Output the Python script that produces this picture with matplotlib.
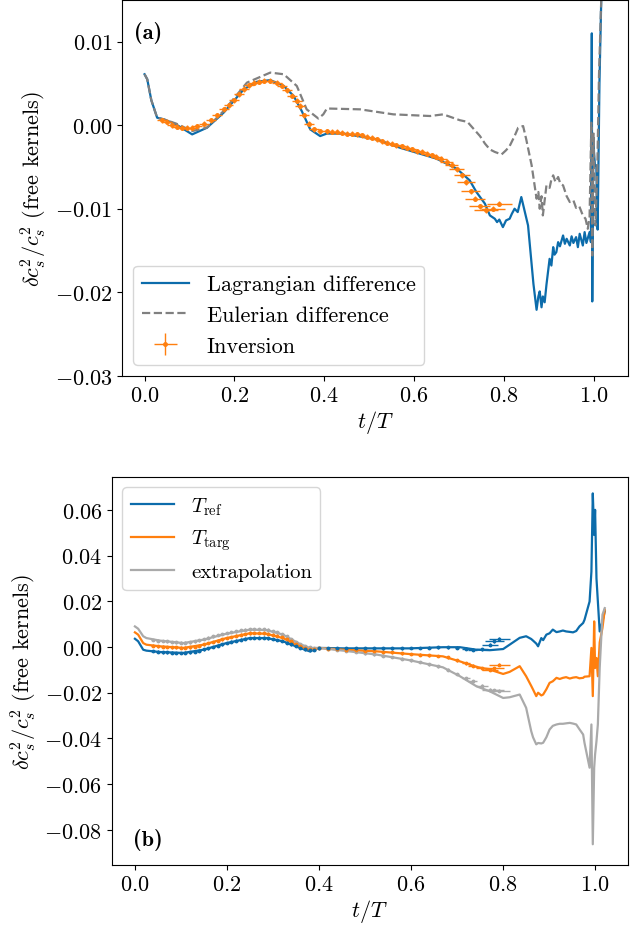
import numpy as np
import matplotlib
matplotlib.use("Agg")
import matplotlib.pyplot as plt

plt.rcParams["font.family"] = "serif"
plt.rcParams["font.serif"] = ["cmr10"]
plt.rcParams["mathtext.fontset"] = "cm"
plt.rcParams["axes.formatter.use_mathtext"] = True
plt.rcParams["font.size"] = 16
plt.rcParams["axes.unicode_minus"] = True

BLUE = "#0c6cab"
ORANGE = "#ff7f0e"
DGREY = "#808080"
LGREY = "#aaaaaa"

# ---- panel (a): sound-speed difference vs. fractional age ----
t_lag = [0.0, 0.006, 0.015, 0.028, 0.043, 0.07, 0.106, 0.139, 0.176, 0.221, 0.25, 0.28,
         0.31, 0.332, 0.35, 0.369, 0.391, 0.406, 0.443, 0.517, 0.569, 0.65, 0.695, 0.724,
         0.739, 0.758, 0.769, 0.78, 0.785, 0.79, 0.798, 0.805, 0.813, 0.818, 0.824, 0.831,
         0.839, 0.854, 0.866, 0.873, 0.877, 0.880, 0.884, 0.887, 0.891, 0.895, 0.902, 0.906,
         0.910, 0.913, 0.917, 0.921, 0.925, 0.932, 0.936, 0.94, 0.947, 0.951, 0.955, 0.961,
         0.965, 0.969, 0.976, 0.98, 0.984, 0.991, 0.994, 0.996, 0.997, 0.999, 1.003, 1.006,
         1.009, 1.013, 1.017, 1.025]
v_lag = [0.0061, 0.0055, 0.0030, 0.0009, 0.0007, 0.0001, -0.0011, -0.0003, 0.0015, 0.0043,
         0.0052, 0.0054, 0.0047, 0.0035, 0.0017, -0.0005, -0.0013, -0.0010, -0.0010, -0.0017,
         -0.0027, -0.0040, -0.0052, -0.0066, -0.0080, -0.0094, -0.0108, -0.0112, -0.0116,
         -0.0113, -0.0122, -0.0114, -0.0112, -0.0106, -0.0100, -0.0104, -0.0086, -0.0120,
         -0.0190, -0.0221, -0.0205, -0.0199, -0.0218, -0.0205, -0.0212, -0.0191, -0.0160,
         -0.0168, -0.0146, -0.0155, -0.0152, -0.0140, -0.0145, -0.0132, -0.0142, -0.0136,
         -0.0144, -0.0133, -0.0141, -0.0134, -0.0146, -0.0130, -0.0144, -0.0128, -0.0141,
         -0.0128, -0.0140, 0.0110, -0.0211, -0.0020, -0.0048, -0.0048, -0.0125, 0.0050,
         0.0150, 0.0220]

t_eul = [0.0, 0.006, 0.015, 0.028, 0.043, 0.07, 0.106, 0.139, 0.176, 0.228, 0.28, 0.31,
         0.339, 0.361, 0.387, 0.398, 0.406, 0.48, 0.554, 0.636, 0.665, 0.702, 0.719, 0.747,
         0.758, 0.769, 0.78, 0.795, 0.805, 0.813, 0.824, 0.832, 0.843, 0.850, 0.862, 0.873,
         0.877, 0.880, 0.884, 0.887, 0.891, 0.895, 0.902, 0.906, 0.910, 0.915, 0.921, 0.926,
         0.932, 0.94, 0.947, 0.955, 0.961, 0.968, 0.976, 0.982, 0.987, 0.991, 0.995, 0.997,
         1.0, 1.004, 1.008, 1.012, 1.017, 1.025]
v_eul = [0.0061, 0.0055, 0.0030, 0.0009, 0.0007, 0.0002, -0.0007, -0.0003, 0.0017, 0.0051,
         0.0063, 0.0061, 0.0047, 0.0019, 0.0008, 0.0013, 0.0020, 0.0019, 0.0013, 0.0011,
         0.0013, 0.0006, 0.0004, -0.0013, -0.0022, -0.0029, -0.0032, -0.0035, -0.0030,
         -0.0025, -0.0013, -0.0003, -0.0001, -0.0017, -0.0048, -0.0088, -0.0080, -0.0100,
         -0.0085, -0.0108, -0.0090, -0.0072, -0.0075, -0.0065, -0.0060, -0.0068, -0.0062,
         -0.0070, -0.0072, -0.0085, -0.0092, -0.0090, -0.0099, -0.0097, -0.0108, -0.0112,
         -0.0124, -0.0110, 0.0003, -0.0156, -0.0010, -0.0120, -0.0060, 0.0060, 0.0150, 0.0220]

t_inv = [0.039, 0.050, 0.061, 0.073, 0.084, 0.095, 0.106, 0.117, 0.132, 0.147, 0.161,
         0.176, 0.187, 0.199, 0.210, 0.221, 0.232, 0.243, 0.254, 0.265, 0.280, 0.295,
         0.306, 0.317, 0.328, 0.339, 0.347, 0.356, 0.367, 0.378, 0.391, 0.406, 0.417,
         0.428, 0.439, 0.450, 0.461, 0.473, 0.484, 0.495, 0.506, 0.517, 0.528, 0.539,
         0.550, 0.561, 0.573, 0.584, 0.595, 0.606, 0.617, 0.628, 0.639, 0.650, 0.661,
         0.673, 0.684, 0.695, 0.706, 0.716, 0.726, 0.736, 0.746, 0.760, 0.776, 0.790]
v_inv = [0.0006, 0.00044, 0.0, -0.0002, -0.0003, -0.0003, -0.0003, -0.0001, 0.0002,
         0.0006, 0.0012, 0.0019, 0.0024, 0.0030, 0.0037, 0.0043, 0.0048, 0.0051, 0.0052,
         0.0053, 0.0053, 0.0051, 0.0047, 0.0042, 0.0035, 0.0029, 0.0023, 0.0012, 0.0002,
         -0.0005, -0.0007, -0.00075, -0.0008, -0.0008, -0.0009, -0.0010, -0.0010, -0.0011,
         -0.0012, -0.0014, -0.0015, -0.0017, -0.0019, -0.0021, -0.0022, -0.0024, -0.0025,
         -0.0027, -0.0029, -0.0031, -0.0032, -0.0034, -0.0036, -0.0038, -0.0040, -0.0044,
         -0.0048, -0.0053, -0.0060, -0.0068, -0.0079, -0.0088, -0.0097, -0.0102, -0.0100,
         -0.0094]
xerr_inv = [0.011, 0.011, 0.011, 0.011, 0.011, 0.011, 0.011, 0.011, 0.011, 0.011, 0.011,
            0.011, 0.011, 0.011, 0.011, 0.011, 0.011, 0.011, 0.011, 0.011, 0.011, 0.011,
            0.011, 0.011, 0.011, 0.011, 0.011, 0.011, 0.011, 0.011, 0.008, 0.008, 0.008,
            0.008, 0.008, 0.008, 0.008, 0.008, 0.008, 0.008, 0.008, 0.008, 0.008, 0.008,
            0.009, 0.009, 0.009, 0.010, 0.010, 0.010, 0.010, 0.011, 0.011, 0.012, 0.013,
            0.014, 0.015, 0.016, 0.018, 0.020, 0.021, 0.022, 0.024, 0.026, 0.027, 0.028]
yerr_inv = 0.0003

# ---- panel (b): reference, target and extrapolated ages ----
t_b = [0.0, 0.007, 0.018, 0.025, 0.054, 0.105, 0.149, 0.199, 0.25, 0.286, 0.322, 0.359,
       0.380, 0.4, 0.453, 0.525, 0.598, 0.670, 0.707, 0.743, 0.772, 0.801, 0.815, 0.837,
       0.851, 0.862, 0.866, 0.873, 0.877, 0.884, 0.888, 0.895, 0.902, 0.909, 0.917, 0.924,
       0.931, 0.938, 0.946, 0.953, 0.960, 0.967, 0.975, 0.978, 0.989, 0.993, 0.996, 0.999,
       1.001, 1.004, 1.007, 1.011, 1.017, 1.022]
v_ref = [0.0036, 0.0025, -0.0012, -0.0016, -0.0022, -0.0026, -0.0012, 0.0017, 0.0039,
         0.0039, 0.0025, -0.0004, -0.0019, -0.0004, -0.0006, -0.0006, -0.0006, -0.0001,
         -0.0001, -0.0012, -0.0014, -0.0009, 0.0010, 0.0040, 0.0047, 0.0035, 0.0028, 0.0015,
         0.0003, 0.0039, 0.0030, 0.0054, 0.0060, 0.0076, 0.0065, 0.0068, 0.0072, 0.0068,
         0.0066, 0.0064, 0.0070, 0.0090, 0.0105, 0.0119, 0.0199, 0.0330, 0.0672, 0.0490,
         0.0600, 0.0300, 0.0200, 0.0068, 0.0112, 0.0156]
v_targ = [0.0064, 0.0054, 0.0017, 0.0010, 0.0003, -0.0004, 0.0010, 0.0039, 0.0060, 0.0058,
          0.0039, 0.0003, -0.0012, -0.0004, -0.0012, -0.0019, -0.0031, -0.0041, -0.0063,
          -0.0087, -0.0099, -0.0118, -0.0109, -0.0084, -0.0128, -0.0170, -0.0186, -0.0215,
          -0.0200, -0.0212, -0.0208, -0.0185, -0.0157, -0.0150, -0.0135, -0.0140, -0.0135,
          -0.0132, -0.0138, -0.0134, -0.0132, -0.0137, -0.0135, -0.0130, -0.0128, -0.0004,
          -0.0215, 0.0112, -0.0092, -0.0048, -0.0128, 0.0020, 0.0083, 0.0163]
v_extr = [0.0090, 0.0080, 0.0047, 0.0039, 0.0028, 0.0017, 0.0032, 0.0058, 0.0076, 0.0074,
          0.0054, 0.0013, -0.0004, -0.0004, -0.0016, -0.0033, -0.0058, -0.0089, -0.0128,
          -0.0172, -0.0194, -0.0223, -0.0220, -0.0208, -0.0266, -0.0368, -0.0395, -0.0426,
          -0.0420, -0.0422, -0.0419, -0.0395, -0.0361, -0.0345, -0.0339, -0.0336, -0.0336,
          -0.0334, -0.0332, -0.0335, -0.0339, -0.0360, -0.0383, -0.0420, -0.0528, -0.0339,
          -0.0863, -0.0528, -0.0470, -0.0412, -0.0339, -0.0092, 0.0141, 0.0170]

t_bpts = [0.04, 0.05, 0.06, 0.07, 0.08, 0.09, 0.10, 0.11, 0.12, 0.13, 0.14, 0.15, 0.16,
          0.17, 0.18, 0.19, 0.20, 0.21, 0.22, 0.23, 0.24, 0.25, 0.26, 0.27, 0.28, 0.29,
          0.30, 0.31, 0.32, 0.33, 0.34, 0.35, 0.36, 0.37, 0.38, 0.39, 0.40, 0.42, 0.44,
          0.46, 0.48, 0.50, 0.52, 0.54, 0.56, 0.58, 0.60, 0.62, 0.64, 0.66, 0.68, 0.70,
          0.72, 0.735, 0.755, 0.772, 0.782, 0.793]
xerr_bpts = [0.004] * 52 + [0.008, 0.010, 0.014, 0.018, 0.020, 0.022]
ref_pts = [-0.0018, -0.0021, -0.0023, -0.0024, -0.0025, -0.0026, -0.0026, -0.0025,
           -0.0024, -0.0021, -0.0016, -0.0011, -0.0006, 0.0000, 0.0006, 0.0012, 0.0017,
           0.0023, 0.0028, 0.0032, 0.0036, 0.0039, 0.0040, 0.0040, 0.0040, 0.0038, 0.0035,
           0.0031, 0.0026, 0.0019, 0.0012, 0.0004, -0.0004, -0.0010, -0.0015, -0.0012,
           -0.0006, -0.0005, -0.0006, -0.0006, -0.0006, -0.0006, -0.0006, -0.0006, -0.0006,
           -0.0006, -0.0005, -0.0004, -0.0003, -0.0002, -0.0002, -0.0003, -0.0007, -0.0012,
           -0.0010, 0.0010, 0.0025, 0.0036]
targ_pts = [0.0005, 0.0003, 0.0002, 0.0000, -0.0001, -0.0002, -0.0003, -0.0003, -0.0002,
            0.0001, 0.0006, 0.0011, 0.0017, 0.0022, 0.0028, 0.0034, 0.0039, 0.0044,
            0.0049, 0.0053, 0.0057, 0.0059, 0.0061, 0.0061, 0.0060, 0.0058, 0.0054, 0.0049,
            0.0042, 0.0034, 0.0024, 0.0013, 0.0003, -0.0005, -0.0010, -0.0008, -0.0005,
            -0.0007, -0.0010, -0.0012, -0.0014, -0.0016, -0.0018, -0.0021, -0.0024, -0.0028,
            -0.0031, -0.0034, -0.0037, -0.0040, -0.0046, -0.0058, -0.0071, -0.0081, -0.0093,
            -0.0099, -0.0092, -0.0077]
extr_pts = [0.0030, 0.0028, 0.0026, 0.0024, 0.0022, 0.0020, 0.0019, 0.0019, 0.0021,
            0.0024, 0.0029, 0.0035, 0.0041, 0.0047, 0.0052, 0.0057, 0.0061, 0.0065,
            0.0069, 0.0073, 0.0076, 0.0078, 0.0079, 0.0079, 0.0078, 0.0075, 0.0070, 0.0064,
            0.0056, 0.0046, 0.0034, 0.0022, 0.0012, 0.0004, -0.0002, -0.0004, -0.0004,
            -0.0009, -0.0013, -0.0017, -0.0022, -0.0027, -0.0032, -0.0038, -0.0044, -0.0051,
            -0.0058, -0.0066, -0.0075, -0.0085, -0.0100, -0.0118, -0.0137, -0.0150, -0.0170,
            -0.0186, -0.0188, -0.0191]
yerr_bpts = 0.0006

fig = plt.figure(figsize=(6.36, 9.28), dpi=100)
ax1 = fig.add_axes([0.192, 0.594, 0.795, 0.405])
ax2 = fig.add_axes([0.176, 0.067, 0.811, 0.418])

ax1.plot(t_lag, v_lag, color=BLUE, lw=1.6, label="Lagrangian difference")
ax1.plot(t_eul, v_eul, color=DGREY, lw=1.6, ls="--", label="Eulerian difference")
ax1.errorbar(t_inv, v_inv, xerr=xerr_inv, yerr=yerr_inv, fmt=".", color=ORANGE,
             ms=5, lw=1.0, label="Inversion")
ax1.set_xlim(-0.05, 1.076)
ax1.set_ylim(-0.03, 0.015)
ax1.set_yticks([-0.03, -0.02, -0.01, 0.0, 0.01])
ax1.set_xlabel(r"$t/T$", labelpad=2)
ax1.set_ylabel(r"$\delta c_s^2/c_s^2$ (free kernels)")
ax1.legend(loc="lower left", fontsize=16, handlelength=2.1)
ax1.text(0.024, 0.945, "(a)", transform=ax1.transAxes, fontfamily="cmb10",
         fontsize=16, va="top", ha="left")

ax2.plot(t_b, v_ref, color=BLUE, lw=1.6, label=r"$T_{\rm ref}$")
ax2.plot(t_b, v_targ, color=ORANGE, lw=1.6, label=r"$T_{\rm targ}$")
ax2.plot(t_b, v_extr, color=LGREY, lw=1.6, label="extrapolation")
for pts, c in [(extr_pts, LGREY), (targ_pts, ORANGE), (ref_pts, BLUE)]:
    ax2.errorbar(t_bpts, pts, xerr=xerr_bpts, yerr=yerr_bpts, fmt=".", color=c,
                 ms=3.5, lw=1.0)
ax2.set_xlim(-0.05, 1.072)
ax2.set_ylim(-0.0953, 0.0744)
ax2.set_yticks([-0.08, -0.06, -0.04, -0.02, 0.0, 0.02, 0.04, 0.06])
ax2.set_xlabel(r"$t/T$", labelpad=2)
ax2.set_ylabel(r"$\delta c_s^2/c_s^2$ (free kernels)")
ax2.legend(loc="upper left", fontsize=15, handlelength=2.1)
ax2.text(0.041, 0.038, "(b)", transform=ax2.transAxes, fontfamily="cmb10",
         fontsize=16, va="bottom", ha="left")

fig.savefig("out.png", dpi=100)
